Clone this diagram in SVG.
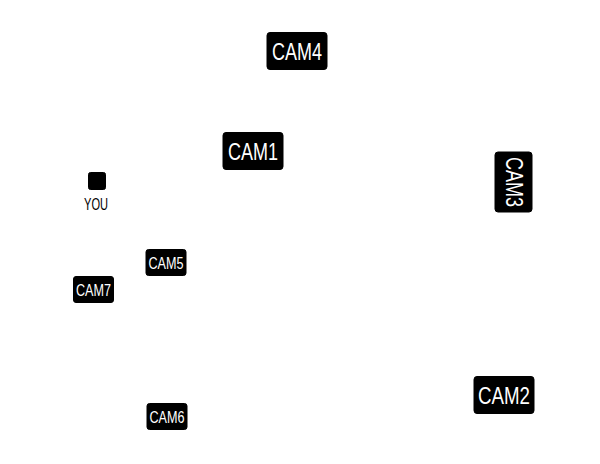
<svg xmlns="http://www.w3.org/2000/svg" width="600" height="464" viewBox="0 0 600 464">
<style>
.box{fill:#000;stroke:#000;stroke-width:1}
.t{fill:#fff;font-family:"Liberation Sans","DejaVu Sans",sans-serif;text-anchor:middle}
.big{font-size:23px}
.small{font-size:16px}
.lbl{fill:#000;font-family:"Liberation Sans","DejaVu Sans",sans-serif;text-anchor:middle;font-size:17px}
</style>
<rect width="600" height="464" fill="#fff"/>
<g id="connectors"></g>
<g id="cam4"><rect class="box" x="267" y="32.5" width="60" height="37" rx="3"/><text class="t big" x="297" y="59.5" textLength="50" lengthAdjust="spacingAndGlyphs">CAM4</text></g>
<g id="cam1"><rect class="box" x="223" y="132.5" width="60" height="37" rx="3"/><text class="t big" x="253" y="159.5" textLength="50" lengthAdjust="spacingAndGlyphs">CAM1</text></g>
<g id="cam3"><rect class="box" x="495" y="152" width="37" height="60" rx="3"/><text class="t big" transform="translate(514 182) rotate(90)" x="0" y="8.5" textLength="50" lengthAdjust="spacingAndGlyphs">CAM3</text></g>
<g id="you"><rect class="box" x="88.5" y="172.5" width="17" height="17" rx="2"/><text class="lbl" x="96" y="210" textLength="24" lengthAdjust="spacingAndGlyphs">YOU</text></g>
<g id="cam5"><rect class="box" x="146" y="249.5" width="40" height="26" rx="2.5"/><text class="t small" x="166" y="268.5" textLength="35" lengthAdjust="spacingAndGlyphs">CAM5</text></g>
<g id="cam7"><rect class="box" x="73.5" y="276.5" width="40" height="26" rx="2.5"/><text class="t small" x="93.5" y="295.5" textLength="35" lengthAdjust="spacingAndGlyphs">CAM7</text></g>
<g id="cam2"><rect class="box" x="474" y="376.5" width="60" height="37" rx="3"/><text class="t big" x="504" y="403.5" textLength="52" lengthAdjust="spacingAndGlyphs">CAM2</text></g>
<g id="cam6"><rect class="box" x="147" y="403.5" width="40" height="26" rx="2.5"/><text class="t small" x="167" y="422.5" textLength="35" lengthAdjust="spacingAndGlyphs">CAM6</text></g>
</svg>
